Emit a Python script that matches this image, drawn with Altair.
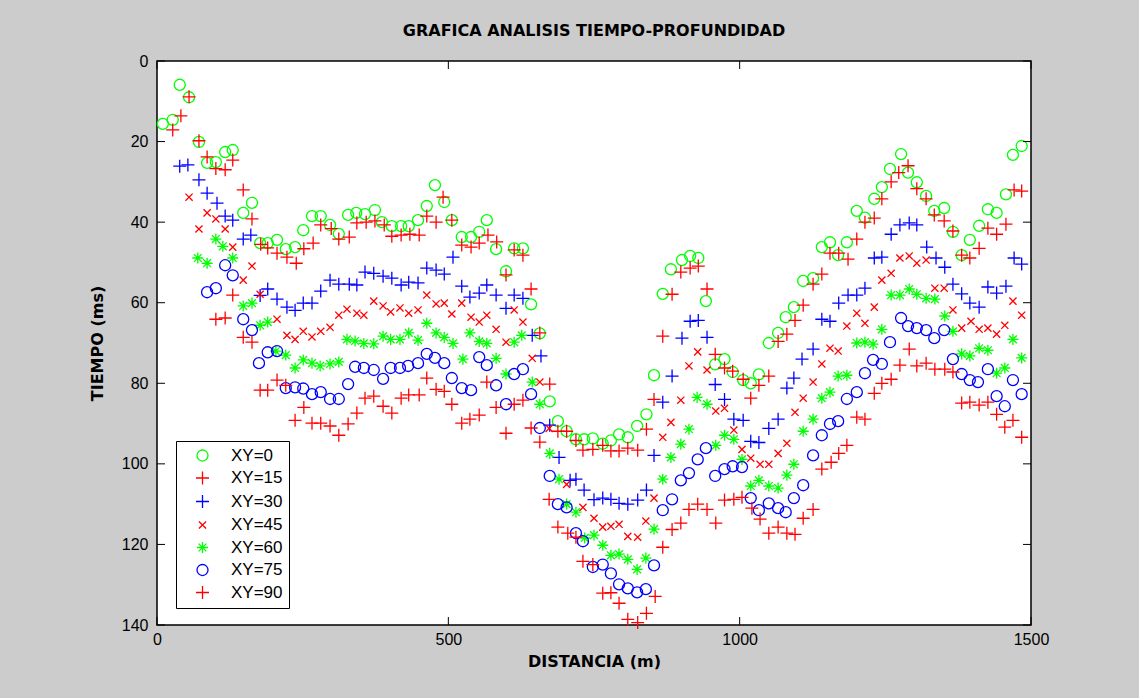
import altair as alt
import pandas as pd

# ---------------- data ----------------
SERIES = ["XY=0", "XY=15", "XY=30", "XY=45", "XY=60", "XY=75", "XY=90"]
COLORS = ["#00ff00", "#ff0000", "#0000ff", "#ff0000", "#00ff00", "#0000ff", "#ff0000"]

X_XY0 = [10, 27, 39, 55, 72, 86, 101, 117, 130, 148, 163, 177, 190, 206, 221, 237, 251, 266, 281, 297,
         312, 328, 342, 357, 374, 386, 403, 419, 432, 448, 463, 477, 493, 506, 523, 539, 553, 566, 582, 599,
         613, 628, 642, 657, 674, 688, 703, 719, 733, 748, 765, 779, 793, 808, 824, 840, 853, 868, 882, 901,
         915, 929, 942, 958, 974, 988, 1006, 1019, 1033, 1050, 1066, 1079, 1093, 1109, 1126, 1141, 1155, 1169,
         1184, 1201, 1215, 1231, 1244, 1258, 1277, 1289, 1304, 1320, 1334, 1351, 1366, 1381, 1395, 1411, 1426,
         1441, 1457, 1469, 1484]
T_XY0 = [15.6, 14.6, 5.9, 9.0, 20.1, 25.3, 25.1, 22.6, 22.1, 37.7, 35.2, 45.2, 45.2, 44.4, 46.7, 46.2, 42.0, 38.5,
         38.5, 40.7, 42.9, 38.2, 37.7, 38.0, 37.0, 40.0, 41.0, 41.0, 41.0, 39.5, 36.0, 30.8, 35.0, 39.5, 43.7, 43.7,
         42.4, 39.5, 46.7, 52.2, 46.5, 46.5, 60.4, 67.6, 84.5, 89.4, 91.9, 93.9, 93.9, 93.7, 95.0, 94.2, 92.7, 93.4,
         90.6, 87.7, 78.0, 57.8, 51.7, 49.4, 48.4, 48.9, 59.6, 75.3, 74.0, 77.2, 79.2, 80.0, 77.8, 70.0, 67.5, 63.6,
         61.1, 54.6, 53.9, 46.2, 45.0, 48.2, 45.0, 37.2, 38.9, 34.2, 31.3, 26.8, 23.1, 27.7, 30.1, 33.5, 37.2, 36.5,
         42.4, 48.2, 44.4, 40.9, 36.8, 37.7, 33.1, 23.3, 21.1]

X_XY15 = [27, 41, 55, 72, 86, 101, 117, 130, 148, 163, 178, 190, 206, 223, 239, 252, 268, 281, 299, 312, 330,
          343, 359, 374, 390, 403, 419, 434, 450, 463, 479, 491, 506, 523, 539, 553, 568, 583, 599, 613, 628, 642,
          657, 674, 688, 703, 719, 731, 748, 765, 779, 793, 808, 825, 840, 853, 868, 884, 899, 915, 929, 944, 958,
          974, 988, 1006, 1019, 1033, 1050, 1066, 1081, 1095, 1109, 1126, 1141, 1155, 1170, 1186, 1201, 1215, 1231,
          1244, 1260, 1273, 1289, 1304, 1320, 1334, 1351, 1366, 1381, 1395, 1411, 1426, 1441, 1457, 1471, 1484]
T_XY15 = [17.1, 13.6, 8.9, 19.8, 23.8, 26.7, 27.0, 24.6, 32.0, 39.2, 45.5, 46.4, 47.7, 48.7, 50.2, 46.6, 45.2, 40.7,
          41.6, 44.2, 43.7, 40.2, 40.0, 39.7, 40.7, 43.5, 43.2, 43.0, 43.2, 38.5, 40.0, 33.8, 39.5, 45.7, 46.2, 45.2,
          43.2, 44.9, 53.1, 46.9, 48.2, 56.6, 67.5, 80.2, 91.9, 91.9, 94.2, 96.6, 96.4, 95.4, 96.8, 96.8, 96.1, 96.6,
          91.4, 84.0, 68.3, 57.9, 52.4, 51.4, 50.9, 56.6, 72.8, 76.2, 77.0, 79.0, 83.7, 80.5, 78.2, 69.6, 67.8, 64.4,
          60.6, 55.4, 52.9, 47.7, 47.7, 49.2, 44.2, 40.0, 39.0, 34.2, 30.0, 27.7, 26.0, 31.7, 34.2, 38.2, 39.7, 42.2,
          48.2, 48.9, 46.5, 41.5, 43.0, 40.5, 32.0, 32.3]

X_XY30 = [39, 53, 72, 86, 103, 117, 130, 148, 161, 177, 190, 206, 223, 237, 251, 266, 281, 297, 312, 330, 343,
          357, 372, 388, 403, 419, 432, 448, 463, 479, 493, 508, 523, 537, 553, 566, 582, 599, 613, 628, 644, 659,
          674, 690, 709, 719, 733, 750, 765, 779, 793, 808, 825, 840, 853, 868, 884, 901, 915, 929, 944, 958, 974,
          990, 1006, 1019, 1033, 1050, 1066, 1081, 1093, 1107, 1126, 1141, 1155, 1170, 1186, 1201, 1215, 1231, 1244,
          1260, 1275, 1291, 1304, 1321, 1337, 1352, 1366, 1381, 1395, 1411, 1426, 1441, 1457, 1471, 1484]
T_XY30 = [26.1, 25.8, 29.5, 32.8, 35.3, 38.5, 39.5, 44.2, 43.2, 58.2, 56.6, 59.1, 61.1, 61.9, 60.1, 60.1, 57.1, 54.4,
          55.4, 55.4, 55.6, 52.4, 52.7, 53.4, 53.9, 55.6, 54.9, 55.1, 51.4, 51.9, 52.9, 48.7, 55.9, 58.6, 57.6, 55.6,
          58.1, 61.4, 58.1, 58.9, 68.1, 73.2, 90.4, 98.4, 104.1, 103.8, 106.5, 108.9, 108.5, 108.8, 109.8, 110.0,
          109.0, 106.5, 97.9, 84.7, 78.2, 68.8, 64.6, 64.4, 68.6, 80.3, 84.0, 88.9, 89.2, 94.4, 94.7, 91.2, 88.9,
          81.2, 78.7, 74.0, 71.5, 64.1, 64.6, 60.1, 58.1, 58.1, 56.4, 48.9, 48.7, 43.0, 40.7, 40.2, 40.7, 46.2, 48.9,
          51.2, 55.4, 57.8, 60.1, 61.1, 56.1, 57.6, 55.9, 48.9, 50.4]

X_XY45 = [55, 72, 86, 101, 117, 130, 148, 163, 177, 206, 223, 237, 251, 266, 281, 297, 312, 326, 343, 355, 372,
          388, 401, 417, 432, 448, 463, 479, 493, 506, 523, 539, 553, 566, 582, 599, 613, 628, 644, 657, 673, 703,
          731, 750, 765, 779, 793, 808, 825, 839, 853, 868, 882, 899, 913, 928, 944, 959, 974, 990, 1004, 1019, 1035,
          1050, 1066, 1081, 1095, 1109, 1126, 1141, 1155, 1169, 1184, 1201, 1215, 1231, 1244, 1260, 1275, 1291, 1304,
          1320, 1335, 1351, 1366, 1381, 1397, 1411, 1426, 1441, 1455, 1469, 1484]
T_XY45 = [33.8, 41.7, 37.7, 39.2, 41.7, 46.2, 54.4, 50.9, 57.9, 64.1, 68.1, 69.1, 67.1, 68.5, 67.1, 66.1, 63.1, 61.6,
          62.6, 63.1, 59.6, 60.8, 62.3, 61.3, 62.6, 61.8, 58.1, 60.3, 60.1, 62.8, 60.1, 63.6, 64.8, 63.1, 66.6, 69.8,
          61.8, 64.8, 73.8, 79.7, 91.2, 105.1, 110.8, 113.5, 115.7, 115.5, 115.0, 118.0, 118.2, 114.2, 108.5, 93.4,
          89.7, 84.2, 75.7, 72.2, 76.7, 86.9, 86.2, 91.6, 96.4, 98.6, 100.1, 100.1, 97.4, 94.9, 87.2, 83.7, 79.7,
          75.2, 71.3, 72.0, 65.8, 62.6, 65.1, 61.1, 54.4, 52.7, 48.9, 48.4, 50.2, 49.4, 56.4, 56.4, 61.8, 66.3, 64.6,
          66.6, 66.3, 67.8, 65.6, 59.6, 63.1]

X_XY60 = [70, 86, 101, 113, 130, 148, 163, 177, 190, 204, 221, 237, 251, 266, 280, 297, 312, 326, 340, 355, 372,
          388, 401, 417, 432, 448, 463, 479, 493, 508, 525, 537, 553, 566, 582, 599, 613, 626, 644, 657, 674, 690,
          703, 719, 734, 750, 765, 779, 793, 808, 824, 839, 853, 868, 882, 899, 913, 927, 944, 959, 974, 990, 1004,
          1019, 1033, 1050, 1066, 1081, 1093, 1109, 1126, 1141, 1155, 1169, 1184, 1201, 1215, 1229, 1244, 1260,
          1275, 1291, 1304, 1320, 1335, 1352, 1366, 1381, 1395, 1411, 1426, 1441, 1455, 1469, 1484]
T_XY60 = [48.9, 50.2, 44.2, 46.0, 48.9, 60.8, 60.1, 65.6, 64.8, 72.0, 73.0, 76.2, 74.2, 75.0, 75.7, 75.2, 74.7, 69.1,
          69.5, 70.1, 70.2, 68.3, 69.1, 69.1, 67.5, 69.3, 65.1, 67.5, 68.6, 70.1, 74.0, 67.5, 69.6, 70.1, 73.8, 77.7,
          69.8, 68.1, 79.7, 85.2, 97.4, 103.8, 110.0, 112.0, 118.4, 117.7, 120.2, 122.7, 122.4, 123.7, 126.2, 123.4,
          116.2, 103.8, 98.4, 95.1, 91.4, 83.5, 85.2, 95.4, 92.9, 93.9, 98.9, 105.5, 104.1, 105.5, 106.0, 102.8,
          100.1, 91.9, 88.9, 83.7, 82.2, 78.2, 78.0, 70.0, 69.8, 70.3, 66.6, 58.1, 58.1, 56.6, 57.9, 58.9, 59.1, 63.3,
          67.1, 72.7, 73.2, 71.3, 71.8, 77.5, 76.2, 69.1, 73.7]

X_XY75 = [86, 101, 117, 130, 148, 163, 175, 190, 206, 221, 237, 251, 266, 281, 297, 312, 328, 340, 355, 372, 388,
          401, 417, 431, 448, 463, 477, 493, 506, 523, 539, 553, 566, 582, 599, 613, 628, 642, 657, 674, 688, 703,
          719, 731, 748, 765, 779, 793, 808, 824, 839, 853, 868, 884, 899, 913, 928, 942, 958, 974, 988, 1004, 1019,
          1033, 1050, 1066, 1079, 1093, 1109, 1126, 1141, 1155, 1169, 1184, 1201, 1215, 1229, 1244, 1258, 1277, 1289,
          1304, 1320, 1334, 1351, 1366, 1381, 1395, 1409, 1426, 1441, 1455, 1469, 1484]
T_XY75 = [57.4, 56.4, 50.7, 53.2, 64.1, 66.8, 75.0, 72.3, 72.0, 81.2, 81.0, 81.3, 82.7, 82.2, 83.9, 83.9, 80.2, 75.9,
          76.2, 76.7, 78.9, 76.2, 76.2, 75.7, 75.0, 72.7, 73.7, 75.0, 78.7, 81.2, 81.7, 73.5, 75.5, 80.5, 85.2, 77.7,
          76.5, 82.7, 91.1, 103.0, 110.0, 110.8, 117.2, 119.2, 125.6, 125.0, 127.2, 129.9, 130.9, 131.9, 131.1, 125.2,
          111.5, 108.8, 104.1, 102.3, 98.9, 96.1, 103.0, 101.3, 100.6, 100.8, 108.5, 111.5, 109.8, 111.0, 112.0,
          108.5, 105.3, 97.9, 92.9, 90.1, 89.4, 83.9, 82.2, 77.5, 74.2, 75.2, 69.8, 63.8, 65.8, 66.3, 66.8, 68.8, 66.8,
          74.0, 77.7, 79.2, 79.7, 76.5, 83.2, 85.7, 79.2, 82.7]

X_XY90 = [101, 117, 130, 148, 163, 177, 190, 206, 221, 237, 252, 266, 281, 297, 312, 328, 343, 357, 372, 388, 403,
          419, 432, 450, 463, 479, 493, 506, 523, 537, 553, 566, 582, 599, 613, 628, 642, 657, 673, 688, 705, 719,
          731, 748, 765, 779, 793, 808, 825, 840, 855, 868, 884, 899, 913, 928, 944, 959, 974, 990, 1004, 1021, 1035,
          1050, 1066, 1081, 1095, 1109, 1126, 1141, 1157, 1170, 1184, 1201, 1215, 1231, 1244, 1260, 1275, 1291, 1304,
          1320, 1335, 1352, 1366, 1381, 1395, 1411, 1426, 1441, 1455, 1469, 1484]
T_XY90 = [64.1, 63.8, 58.1, 68.6, 69.8, 81.7, 81.7, 79.2, 80.5, 89.2, 86.0, 89.9, 89.9, 90.6, 92.9, 90.1, 87.4, 83.7,
          83.2, 85.7, 87.4, 83.7, 82.9, 82.9, 78.7, 81.5, 82.0, 85.2, 89.9, 88.9, 87.9, 79.7, 86.0, 92.4, 85.2, 84.2,
          91.1, 94.6, 108.8, 115.7, 117.2, 118.2, 124.2, 125.0, 132.1, 132.0, 134.6, 138.6, 139.4, 137.1, 132.9,
          120.7, 116.3, 114.7, 111.3, 110.0, 111.3, 114.7, 109.0, 108.8, 108.3, 111.0, 113.7, 117.2, 115.7, 117.2,
          117.5, 113.5, 111.3, 101.3, 99.6, 97.4, 95.4, 88.4, 88.9, 82.5, 80.0, 79.0, 75.5, 71.5, 75.7, 75.0, 76.5,
          76.5, 77.2, 84.9, 84.7, 85.4, 84.7, 87.7, 90.9, 89.2, 93.4]

X_TICKS = [0, 500, 1000, 1500]
Y_TICKS = [0, 20, 40, 60, 80, 100, 120, 140]

# ---------------- marker styles (one symbol size, shapes scaled inside the path) ----------------
CIRCLE = "M0.85,0A0.85,0.85 0 1,1 -0.85,0A0.85,0.85 0 1,1 0.85,0Z"
PLUS = "M-1,0H1M0,-1V1"
XMARK = "M-0.55,-0.55L0.55,0.55M-0.55,0.55L0.55,-0.55"
STAR = "M-0.85,0H0.85M0,-0.85V0.85M-0.6,-0.6L0.6,0.6M-0.6,0.6L0.6,-0.6"
SHAPES = [CIRCLE, PLUS, PLUS, XMARK, STAR, CIRCLE, PLUS]
MSIZE = 169

xs = [X_XY0, X_XY15, X_XY30, X_XY45, X_XY60, X_XY75, X_XY90]
ts = [T_XY0, T_XY15, T_XY30, T_XY45, T_XY60, T_XY75, T_XY90]
rows = []
k = 0
for name, xx, tt in zip(SERIES, xs, ts):
    for a, b in zip(xx, tt):
        rows.append({"serie": name, "x": a, "t": b, "idx": k})
        k += 1
df = pd.DataFrame(rows)

W, H = 874, 564
TL = 8

xscale = alt.Scale(domain=[0, 1500], nice=False, zero=False)
yscale = alt.Scale(domain=[0, 140], nice=False, zero=False, reverse=True)

xaxis = alt.Axis(values=X_TICKS, format="d", ticks=False, domain=False, grid=False, labelFlush=False,
                 labelPadding=6, labelFontSize=16, labelFont="Liberation Sans", labelColor="black",
                 titleFont="DejaVu Sans", titleFontSize=16, titleFontWeight="bold", titleColor="black",
                 titlePadding=6)
yaxis = alt.Axis(values=Y_TICKS, format="d", ticks=False, domain=False, grid=False, labelFlush=False,
                 labelPadding=9, labelFontSize=16, labelFont="Liberation Sans", labelColor="black",
                 titleFont="DejaVu Sans", titleFontSize=16, titleFontWeight="bold", titleColor="black",
                 titlePadding=16)

NBSP = "\u00a0" * 4
legend = alt.Legend(title=None, orient="none", legendX=19, legendY=380, fillColor="white",
                    strokeColor="black", padding=6, labelFontSize=17, labelFont="Liberation Sans",
                    labelColor="black", rowPadding=4.5, symbolOffset=12, labelOffset=20,
                    symbolSize=MSIZE, symbolStrokeWidth=1.3, labelExpr="datum.label + '" + NBSP + "'")

XT = "DISTANCIA (m)"
YT = "TIEMPO (ms)"

points = alt.Chart(df).mark_point(filled=False, strokeWidth=1.3, opacity=1, size=MSIZE).encode(
    x=alt.X("x:Q", scale=xscale, axis=xaxis, title=XT),
    y=alt.Y("t:Q", scale=yscale, axis=yaxis, title=YT),
    color=alt.Color("serie:N", scale=alt.Scale(domain=SERIES, range=COLORS), legend=legend),
    shape=alt.Shape("serie:N", scale=alt.Scale(domain=SERIES, range=SHAPES), legend=legend),
    order=alt.Order("idx:Q"),
)

xt = pd.DataFrame({"x": X_TICKS})
yt = pd.DataFrame({"t": Y_TICKS})
tick_style = dict(color="black", strokeWidth=1)
xb = alt.Chart(xt).mark_rule(**tick_style).encode(
    x=alt.X("x:Q", scale=xscale, axis=xaxis, title=XT), y=alt.value(H), y2=alt.value(H - TL))
xtop = alt.Chart(xt).mark_rule(**tick_style).encode(
    x=alt.X("x:Q", scale=xscale, axis=xaxis, title=XT), y=alt.value(0), y2=alt.value(TL))
yl = alt.Chart(yt).mark_rule(**tick_style).encode(
    y=alt.Y("t:Q", scale=yscale, axis=yaxis, title=YT), x=alt.value(0), x2=alt.value(TL))
yr = alt.Chart(yt).mark_rule(**tick_style).encode(
    y=alt.Y("t:Q", scale=yscale, axis=yaxis, title=YT), x=alt.value(W - TL), x2=alt.value(W))

chart = alt.layer(points, xb, xtop, yl, yr).properties(
    width=W, height=H,
    autosize="none",
    padding={"left": 157, "top": 61, "right": 108, "bottom": 73},
    background="#cccccc",
    title=alt.TitleParams("GRAFICA ANALISIS TIEMPO-PROFUNDIDAD", font="DejaVu Sans", fontSize=16,
                          fontWeight="bold", anchor="middle", frame="group", offset=14, color="black"),
).configure_view(stroke="black", strokeWidth=1.5, fill="white")

chart.save("out.html", embed_options={"renderer": "svg", "actions": False})
